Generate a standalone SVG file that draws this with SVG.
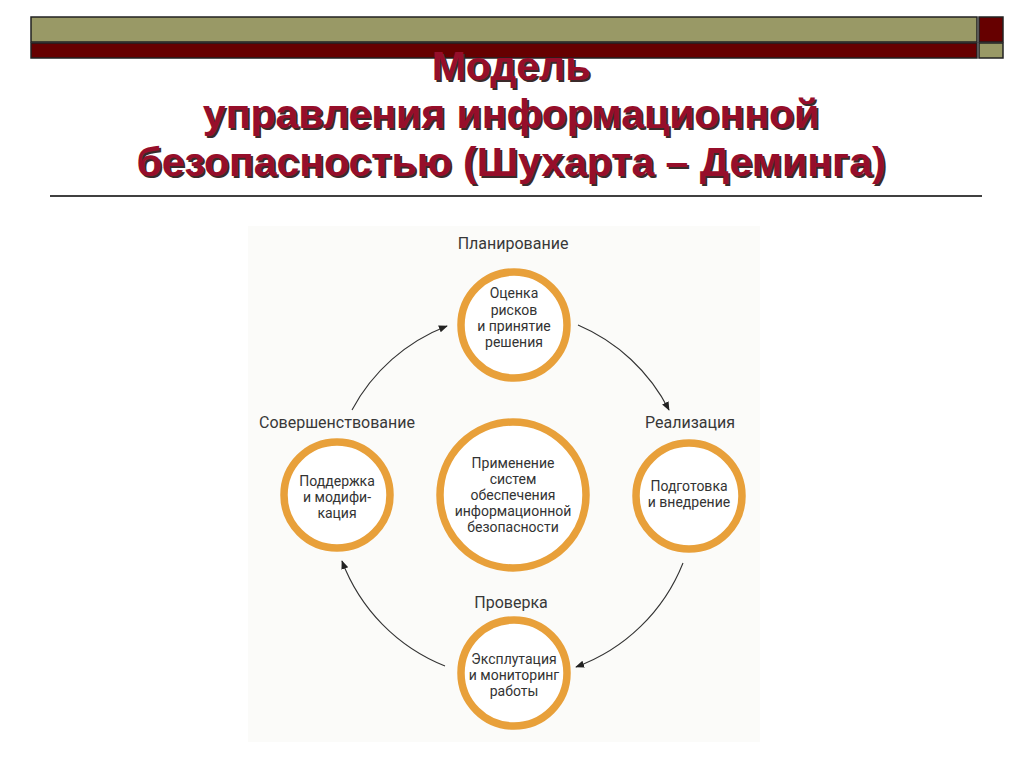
<svg xmlns="http://www.w3.org/2000/svg" width="1024" height="768" viewBox="0 0 1024 768">
<defs>
<style>
.title{font-family:"Liberation Sans",Arial,sans-serif;font-weight:bold;font-size:41px;text-anchor:middle}
.tshadow{fill:#3a2a2a}
.tmain{fill:#960e2a}
.ring{fill:#ffffff;stroke:#e8a03a;stroke-width:7.5}
.lbl{font-family:Roboto,"Liberation Sans",sans-serif;font-size:16px;fill:#383838;text-anchor:middle}
.in{font-family:Roboto,"Liberation Sans",sans-serif;font-size:14px;fill:#333333;text-anchor:middle}
.conn{fill:none;stroke:#333333;stroke-width:1.1}
</style>
<marker id="ah" viewBox="0 0 10 10" refX="9" refY="5" markerWidth="9" markerHeight="9" markerUnits="userSpaceOnUse" orient="auto">
<path d="M0,1 L10,5 L0,9 Z" fill="#222222"/>
</marker>
</defs>
<rect width="1024" height="768" fill="#ffffff"/>
<g id="header">
<rect x="31" y="17" width="946" height="25" fill="#999966" stroke="#222" stroke-width="1.5"/>
<rect x="979" y="17" width="24" height="25" fill="#660000" stroke="#222" stroke-width="1.5"/>
<rect x="31" y="43" width="946" height="15" fill="#660000" stroke="#222" stroke-width="1.5"/>
<rect x="979" y="43" width="24" height="15" fill="#999966" stroke="#222" stroke-width="1.5"/>
</g>
<g id="title">
<text class="title tshadow" x="513" y="82">Модель</text>
<text class="title tmain" x="511" y="80">Модель</text>
<text class="title tshadow" x="513" y="130">управления информационной</text>
<text class="title tmain" x="511" y="128">управления информационной</text>
<text class="title tshadow" x="513" y="178">безопасностью (Шухарта – Деминга)</text>
<text class="title tmain" x="511" y="176">безопасностью (Шухарта – Деминга)</text>
</g>
<line x1="50" y1="196" x2="982" y2="196" stroke="#000" stroke-width="1.5"/>
<rect x="248" y="226" width="512" height="516" fill="#fbfbf9"/>
<g id="connectors">
<path class="conn" d="M352,410 A182,182 0 0 1 447,326" marker-end="url(#ah)"/>
<path class="conn" d="M578,325 A182,182 0 0 1 669,410" marker-end="url(#ah)"/>
<path class="conn" d="M683,563 A182,182 0 0 1 576,667" marker-end="url(#ah)"/>
<path class="conn" d="M445,666 A182,182 0 0 1 342,561" marker-end="url(#ah)"/>
</g>
<g id="plan">
<text class="lbl" x="513" y="249">Планирование</text>
<circle class="ring" cx="514" cy="325" r="53"/>
<text class="in" x="514" y="298">Оценка</text>
<text class="in" x="514" y="315">рисков</text>
<text class="in" x="514" y="331">и принятие</text>
<text class="in" x="514" y="347">решения</text>
</g>
<g id="improve">
<text class="lbl" x="337" y="428">Совершенствование</text>
<circle class="ring" cx="337" cy="495" r="53"/>
<text class="in" x="337" y="486">Поддержка</text>
<text class="in" x="337" y="502">и модифи-</text>
<text class="in" x="337" y="518">кация</text>
</g>
<g id="realize">
<text class="lbl" x="690" y="428">Реализация</text>
<circle class="ring" cx="689" cy="496" r="53"/>
<text class="in" x="689" y="491">Подготовка</text>
<text class="in" x="689" y="507">и внедрение</text>
</g>
<g id="center">
<circle class="ring" cx="513" cy="495" r="73"/>
<text class="in" x="513" y="468">Применение</text>
<text class="in" x="513" y="484">систем</text>
<text class="in" x="513" y="500">обеспечения</text>
<text class="in" x="513" y="516">информационной</text>
<text class="in" x="513" y="532">безопасности</text>
</g>
<g id="check">
<text class="lbl" x="511" y="608">Проверка</text>
<circle class="ring" cx="514" cy="673" r="53"/>
<text class="in" x="514" y="664">Эксплутация</text>
<text class="in" x="514" y="680">и мониторинг</text>
<text class="in" x="514" y="696">работы</text>
</g>
</svg>
